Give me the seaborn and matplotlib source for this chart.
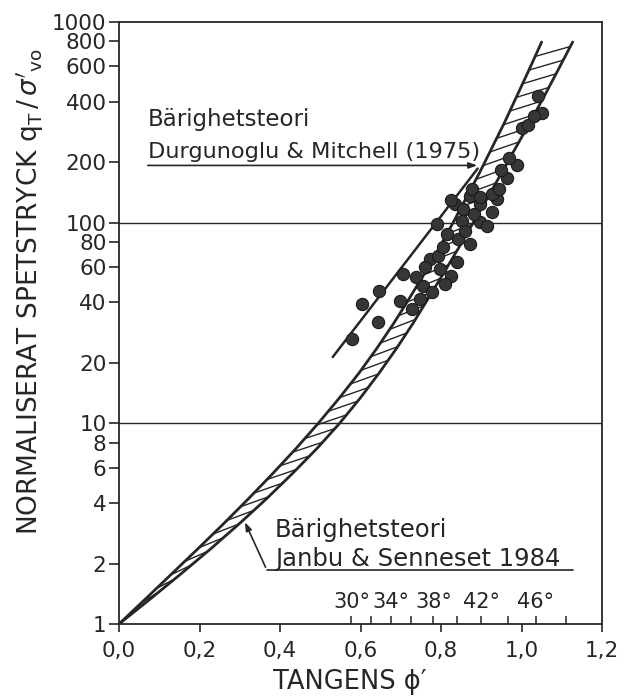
import numpy as np
import matplotlib
matplotlib.use("Agg")
import matplotlib.pyplot as plt
import seaborn as sns
from matplotlib.ticker import FixedLocator, FixedFormatter, NullLocator
from matplotlib.collections import LineCollection

# ---- data ----
band_y = [1.0, 1.334, 1.778, 2.371, 3.162, 4.217, 5.623, 7.499, 10.0, 13.34, 17.78, 23.71,
          31.62, 42.17, 56.23, 74.99, 100.0, 133.4, 177.8, 237.1, 316.2, 421.7, 562.3, 794.3]
upper_x = [0.000, 0.066, 0.131, 0.196, 0.260, 0.322, 0.382, 0.440, 0.495, 0.547, 0.596, 0.641,
           0.683, 0.722, 0.760, 0.796, 0.830, 0.863, 0.896, 0.927, 0.958, 0.987, 1.016, 1.050]
lower_x = [0.000, 0.078, 0.154, 0.228, 0.299, 0.367, 0.431, 0.492, 0.548, 0.599, 0.646, 0.690,
           0.731, 0.769, 0.807, 0.844, 0.880, 0.916, 0.951, 0.986, 1.021, 1.055, 1.088, 1.127]

dots_x = [0.578, 0.603, 0.645, 0.643, 0.705, 0.697, 0.727, 0.739, 0.754, 0.777,
          0.772, 0.792, 0.804, 0.841, 0.871, 0.826, 0.839, 0.789, 0.834, 0.851,
          0.896, 0.913, 0.926, 0.938, 0.896, 0.871, 0.854, 0.826, 0.878, 0.896,
          0.926, 0.945, 0.963, 0.950, 0.988, 0.970, 1.002, 1.015, 1.050, 1.040,
          1.032, 0.759, 0.797, 0.809, 0.747, 0.859, 0.816, 0.883]
dots_y = [26.3, 39.4, 45.7, 32.0, 55.6, 40.7, 37.2, 53.7, 48.4, 45.2,
          66.1, 68.4, 75.9, 83.2, 78.5, 54.3, 63.8, 98.9, 124.5, 102.3,
          101.2, 96.6, 113.5, 131.8, 124.5, 136.5, 117.5, 130.0, 147.9, 134.9,
          139.6, 147.9, 166.0, 182.0, 193.0, 209.0, 295.0, 305.0, 351.0, 427.0,
          339.0, 60.3, 58.9, 49.5, 41.7, 91.2, 88.1, 110.9]

fit_x = [0.531, 0.891]
fit_y = [21.4, 186.0]

angle_ticks = [30, 32, 34, 36, 38, 40, 42, 44, 46, 48]
angle_labels = [30, 34, 38, 42, 46]

ytick_vals = [1, 2, 4, 6, 8, 10, 20, 40, 60, 80, 100, 200, 400, 600, 800, 1000]
ytick_labels = [str(v) for v in ytick_vals]
xtick_vals = [0.0, 0.2, 0.4, 0.6, 0.8, 1.0, 1.2]
xtick_labels = ["0,0", "0,2", "0,4", "0,6", "0,8", "1,0", "1,2"]

grid_lines = [10, 100]

# ---- style ----
sns.set_style("ticks")
plt.rcParams['font.family'] = ['DejaVu Sans']
ink = '#262626'
fs = 15.5

fig = plt.figure(figsize=(6.3, 7), dpi=100)
ax = fig.add_axes([0.1889, 0.1086, 0.7667, 0.86])
ax.set_yscale('log')
ax.set_xlim(0, 1.2)
ax.set_ylim(1, 1000)

# hatch strokes across the band (from the upper to the lower boundary)
log_band = np.log10(band_y)
hatch_step, hatch_rise = 0.068, 0.05
segs = []
for ly in np.arange(0.04, log_band[-1] - hatch_rise + 1e-9, hatch_step):
    xa = np.interp(ly, log_band, upper_x)
    xb = np.interp(ly + hatch_rise, log_band, lower_x)
    segs.append([(xa, 10 ** ly), (xb, 10 ** (ly + hatch_rise))])
ax.add_collection(LineCollection(segs, colors=ink, linewidths=1.0, zorder=2))

sns.lineplot(x=upper_x, y=band_y, sort=False, estimator=None, errorbar=None,
             color=ink, linewidth=2.0, ax=ax)
sns.lineplot(x=lower_x, y=band_y, sort=False, estimator=None, errorbar=None,
             color=ink, linewidth=2.0, ax=ax)

# trend line through data
sns.lineplot(x=fit_x, y=fit_y, sort=False, estimator=None, errorbar=None,
             color=ink, linewidth=1.8, ax=ax)

# measured points
sns.scatterplot(x=dots_x, y=dots_y, s=78, color='#363636', edgecolor='#1a1a1a',
                linewidth=0.8, ax=ax, zorder=5)

for g in grid_lines:
    ax.axhline(g, color=ink, linewidth=1.0, zorder=1)

ax.yaxis.set_major_locator(FixedLocator(ytick_vals))
ax.yaxis.set_major_formatter(FixedFormatter(ytick_labels))
ax.yaxis.set_minor_locator(NullLocator())
ax.xaxis.set_major_locator(FixedLocator(xtick_vals))
ax.xaxis.set_major_formatter(FixedFormatter(xtick_labels))
ax.tick_params(axis='y', direction='out', length=7, width=1.2, color=ink,
               labelsize=fs, labelcolor=ink, pad=2)
ax.tick_params(axis='x', direction='out', length=6, width=1.2, color=ink,
               labelsize=fs, labelcolor=ink, pad=6)
for sp in ax.spines.values():
    sp.set_visible(True)
    sp.set_color(ink)
    sp.set_linewidth(1.3)

# friction angle ticks along the bottom
angle_pos = np.tan(np.radians(angle_ticks))
ax.vlines(angle_pos, 0, 0.014, transform=ax.get_xaxis_transform(), color=ink, linewidth=1.1)
for a in angle_labels:
    ax.text(np.tan(np.radians(a)), 0.036, f"{a}°", transform=ax.get_xaxis_transform(),
            ha='center', va='center', fontsize=15, color=ink)

# annotations
ax.text(0.072, 302, "Bärighetsteori", fontsize=16.5, color=ink, va='baseline')
ax.text(0.072, 209, "Durgunoglu & Mitchell (1975)", fontsize=16.2, color=ink, va='baseline')
ax.annotate("", xy=(0.897, 192.8), xytext=(0.0645, 192.8),
            arrowprops=dict(arrowstyle='-|>,head_length=0.5,head_width=0.18',
                            color=ink, lw=1.2))

ax.text(0.387, 2.72, "Bärighetsteori", fontsize=17.5, color=ink, va='baseline')
ax.text(0.387, 1.95, "Janbu & Senneset 1984", fontsize=17.5, color=ink, va='baseline')
ax.plot([0.367, 1.127], [1.862, 1.862], color=ink, linewidth=1.2)
ax.annotate("", xy=(0.31, 3.31), xytext=(0.367, 1.862),
            arrowprops=dict(arrowstyle='-|>,head_length=0.5,head_width=0.18',
                            color=ink, lw=1.2))

fig.text(30 / 630, 0.583,
         r"NORMALISERAT SPETSTRYCK $\mathrm{q}_\mathrm{T}\,/\,\sigma'_{\mathrm{vo}}$",
         rotation=90, ha='center', va='center', fontsize=19, color=ink)
fig.text(350 / 630, 0.026, "TANGENS ϕ′", ha='center', va='center',
         fontsize=18.5, color=ink)

fig.savefig("out.png", dpi=100)
